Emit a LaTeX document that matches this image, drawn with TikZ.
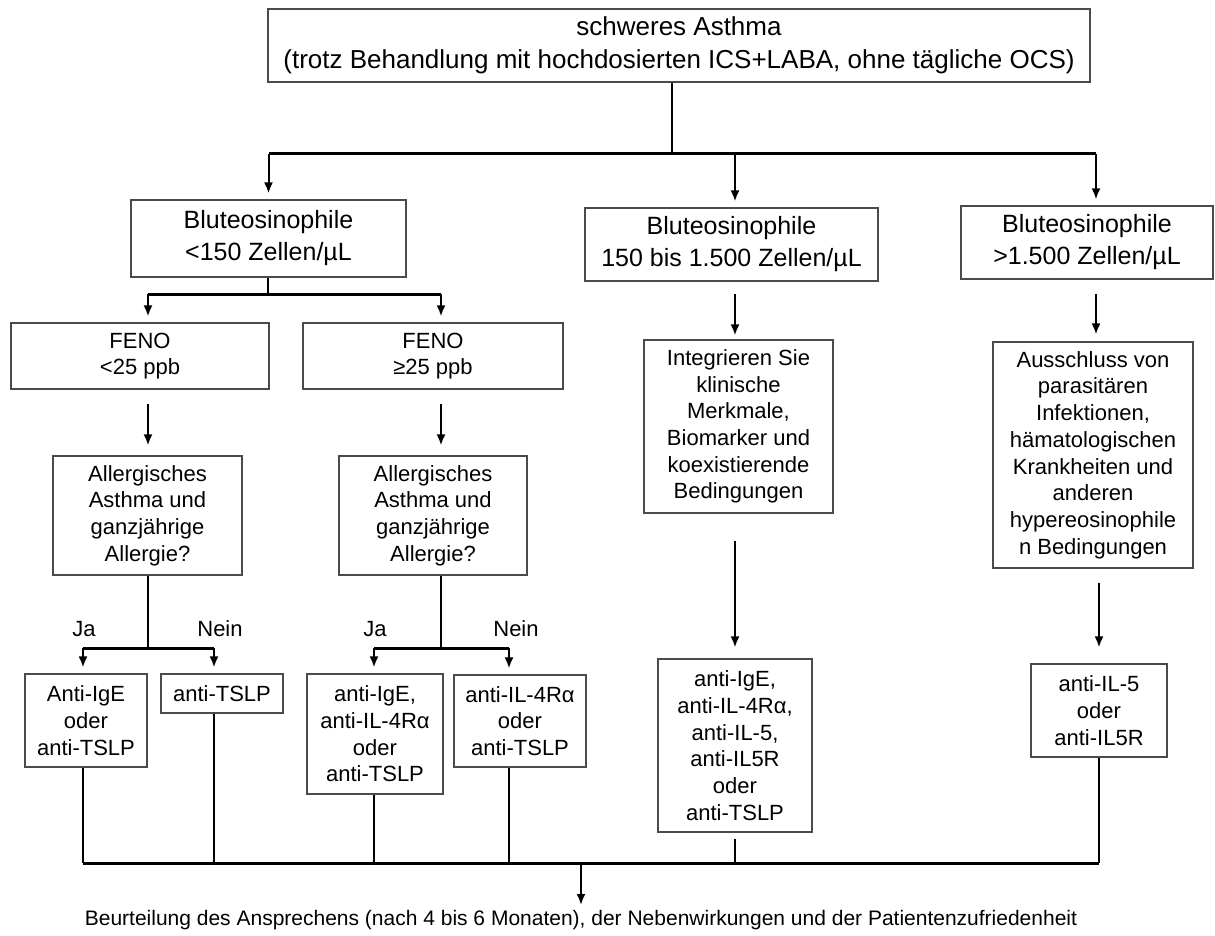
\documentclass[tikz,border=0pt]{standalone}
\usepackage{fontspec}
\setmainfont{Liberation Sans}
\usetikzlibrary{arrows.meta, positioning}
\definecolor{boxgray}{RGB}{75,75,75}
\tikzset{
x=1pt, y=-1pt, % pixel-like coordinates, y grows downwards
>={Latex[length=11pt,width=9pt]}, % filled arrow heads
box/.style={draw=boxgray, line width=1.2pt, align=center, inner sep=0pt, font=\fontsize{22}{26.7}\selectfont}, % small boxes
bigbox/.style={box, font=\fontsize{25}{32}\selectfont}, % eosinophil boxes
conn/.style={line width=2pt}, % plain connector
bar/.style={line width=3pt}, % horizontal split bars
arr/.style={conn, ->, shorten >=6pt}, % arrow connector
lbl/.style={font=\fontsize{22}{26}\selectfont, inner sep=0pt}, % Ja / Nein
}

\begin{document}
\begin{tikzpicture}
    \useasboundingbox (0,0) rectangle (1215,936);
    % columns and rows of the connectors
    \coordinate (c1) at (148,0);
    \coordinate (c2) at (441,0);
    \coordinate (c3) at (735,0);
    \coordinate (c4) at (1096,0);
    \coordinate (d1) at (83,0);
    \coordinate (d2) at (214,0);
    \coordinate (d3) at (374,0);
    \coordinate (d4) at (509,0);
    \coordinate (j0) at (672,154);
    \coordinate (j1) at (268,294);
    \coordinate (r1) at (0,648);
    \coordinate (r2) at (0,863);

    \node[box, font=\fontsize{26}{33}\selectfont, minimum width=822, minimum height=73] (root) at (679,45.5)
        {schweres Asthma\\(trotz Behandlung mit hochdosierten ICS+LABA, ohne tägliche OCS)};
    \node[bigbox, minimum width=275, minimum height=77] (eos1) at (268.5,238.5) {Bluteosinophile\\<150 Zellen/µL};
    \node[bigbox, minimum width=293, minimum height=73] (eos2) at (731.5,244.5) {Bluteosinophile\\150 bis 1.500 Zellen/µL};
    \node[bigbox, minimum width=252, minimum height=73] (eos3) at (1087,242.5) {Bluteosinophile\\>1.500 Zellen/µL};
    \node[box, minimum width=258, minimum height=66] (feno1) at (140,356) {FENO\\<25 ppb};
    \node[box, minimum width=260, minimum height=66] (feno2) at (433,356) {FENO\\≥25 ppb};
    \node[box, minimum width=189, minimum height=119] (allerg1) at (147.5,515.5) {Allergisches\\Asthma und\\ganzjährige\\Allergie?};
    \node[box, minimum width=188, minimum height=119] (allerg2) at (433,515.5) {Allergisches\\Asthma und\\ganzjährige\\Allergie?};
    \node[box, minimum width=189, minimum height=173] (integ) at (738.5,426.5) {Integrieren Sie\\klinische\\Merkmale,\\Biomarker und\\koexistierende\\Bedingungen};
    \node[box, minimum width=200, minimum height=226] (aussch) at (1093,455) {Ausschluss von\\parasitären\\Infektionen,\\hämatologischen\\Krankheiten und\\anderen\\hypereosinophile\\n Bedingungen};
    \node[box, minimum width=122, minimum height=93] (th1) at (86,720.5) {Anti-IgE\\oder\\anti-TSLP};
    \node[box, minimum width=122, minimum height=39] (th2) at (222,693.5) {anti-TSLP};
    \node[box, minimum width=136, minimum height=120] (th3) at (375,734) {anti-IgE,\\anti-IL-4Rα\\oder\\anti-TSLP};
    \node[box, minimum width=132, minimum height=92] (th4) at (520,721) {anti-IL-4Rα\\oder\\anti-TSLP};
    \node[box, minimum width=154, minimum height=173] (th5) at (735,745.5) {anti-IgE,\\anti-IL-4Rα,\\anti-IL-5,\\anti-IL5R\\oder\\anti-TSLP};
    \node[box, minimum width=136, minimum height=93] (th6) at (1099,710.5) {anti-IL-5\\oder\\anti-IL5R};
    \node[lbl] (ja1) at (84,629) {Ja};
    \node[lbl] (nein1) at (220,629) {Nein};
    \node[lbl] (ja2) at (375,629) {Ja};
    \node[lbl] (nein2) at (516,629) {Nein};
    \node[lbl, font=\fontsize{21}{26}\selectfont] (res) at (581,920)
        {Beurteilung des Ansprechens (nach 4 bis 6 Monaten), der Nebenwirkungen und der Patientenzufriedenheit};

    % first split
    \draw[conn] (root.south -| j0) -- (j0);
    \draw[bar] (j0 -| eos1.north) -- (j0 -| c4);
    \draw[arr] (j0 -| eos1.north) -- (eos1.north);
    \draw[arr] (j0 -| c3) -- (eos2.north -| c3);
    \draw[arr] (j0 -| c4) -- (eos3.north -| c4);
    % FENO split
    \draw[conn] (eos1.south -| j1) -- (j1);
    \draw[bar] (j1 -| c1) -- (j1 -| c2);
    \draw[arr] (j1 -| c1) -- (feno1.north -| c1);
    \draw[arr] (j1 -| c2) -- (feno2.north -| c2);
    \draw[arr, shorten <=14pt, shorten >=10pt] (feno1.south -| c1) -- (allerg1.north -| c1);
    \draw[arr, shorten <=14pt, shorten >=10pt] (feno2.south -| c2) -- (allerg2.north -| c2);
    \draw[arr, shorten <=12pt, shorten >=4pt] (eos2.south -| c3) -- (integ.north -| c3);
    \draw[arr, shorten <=14pt, shorten >=7pt] (eos3.south -| c4) -- (aussch.north -| c4);
    % Ja / Nein
    \draw[conn] (allerg1.south -| c1) -- (r1 -| c1);
    \draw[bar] (r1 -| d1) -- (r1 -| d2);
    \draw[arr] (r1 -| d1) -- (th1.north -| d1);
    \draw[arr] (r1 -| d2) -- (th2.north -| d2);
    \draw[conn] (allerg2.south -| c2) -- (r1 -| c2);
    \draw[bar] (r1 -| d3) -- (r1 -| d4);
    \draw[arr] (r1 -| d3) -- (th3.north -| d3);
    \draw[arr] (r1 -| d4) -- (th4.north -| d4);
    \draw[arr, shorten <=27pt, shorten >=11pt] (integ.south -| c3) -- (th5.north -| c3);
    \draw[arr, shorten <=14pt, shorten >=16pt] (aussch.south -| th6) -- (th6.north);
    % join to the assessment
    \foreach \t/\c in {th1/d1, th2/d2, th3/d3, th4/d4}
        \draw[conn] (\t.south -| \c) -- (r2 -| \c);
    \draw[conn, shorten <=6pt] (th5.south) -- (r2 -| th5.south);
    \draw[conn] (th6.south) -- (r2 -| th6.south);
    \draw[bar] (r2 -| d1) -- (r2 -| th6.south);
    \draw[arr, shorten >=5pt] (r2 -| res.north) -- (res.north);
\end{tikzpicture}
\end{document}
